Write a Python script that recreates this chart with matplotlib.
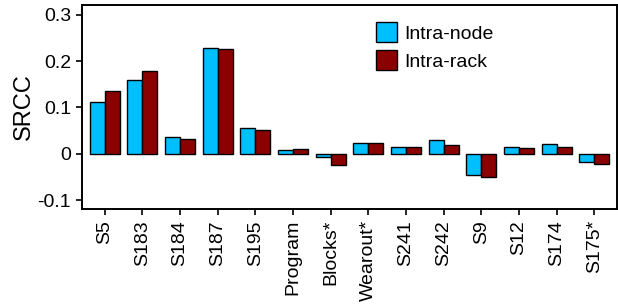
import numpy as np
import matplotlib
matplotlib.use("Agg")
import matplotlib.pyplot as plt

plt.rcParams['font.family'] = ['Liberation Sans', 'DejaVu Sans']

# data
labels = ["S5", "S183", "S184", "S187", "S195", "Program", "Blocks*",
          "Wearout*", "S241", "S242", "S9", "S12", "S174", "S175*"]
intra_node = [0.112, 0.160, 0.037, 0.229, 0.055, 0.009, -0.006,
              0.023, 0.015, 0.030, -0.045, 0.014, 0.021, -0.017]
intra_rack = [0.135, 0.179, 0.033, 0.227, 0.052, 0.011, -0.024,
              0.024, 0.015, 0.020, -0.050, 0.012, 0.015, -0.022]

x = np.arange(len(labels))
w = 0.4

fig = plt.figure(figsize=(6.18, 3.06), dpi=100)
ax = fig.add_axes([0.1327, 0.317, 0.8657, 0.6667])

ax.bar(x - w/2, intra_node, w, color="#00BFFF", edgecolor="black", linewidth=1.0, label="Intra-node")
ax.bar(x + w/2, intra_rack, w, color="#8B0000", edgecolor="black", linewidth=1.0, label="Intra-rack")

ax.set_xlim(-0.6, 13.6)
ax.set_ylim(-0.119, 0.321)
ax.set_yticks([-0.1, 0, 0.1, 0.2, 0.3])
ax.set_yticklabels(["-0.1", "0", "0.1", "0.2", "0.3"])
ax.set_xticks(x)
ax.set_xticklabels(labels, rotation=90)
ax.set_ylabel("SRCC", fontsize=17, labelpad=2)

for s in ax.spines.values():
    s.set_linewidth(1.4)
ax.tick_params(axis="both", labelsize=14, length=4, width=1.2, pad=4)
ax.tick_params(axis="y", labelsize=14)

ax.legend(loc="upper left", bbox_to_anchor=(0.55, 0.915), frameon=False,
          fontsize=14, handlelength=1.07, handleheight=1.15,
          handletextpad=0.35, labelspacing=0.4, borderaxespad=0, borderpad=0)

fig.savefig("out.png", dpi=100)
